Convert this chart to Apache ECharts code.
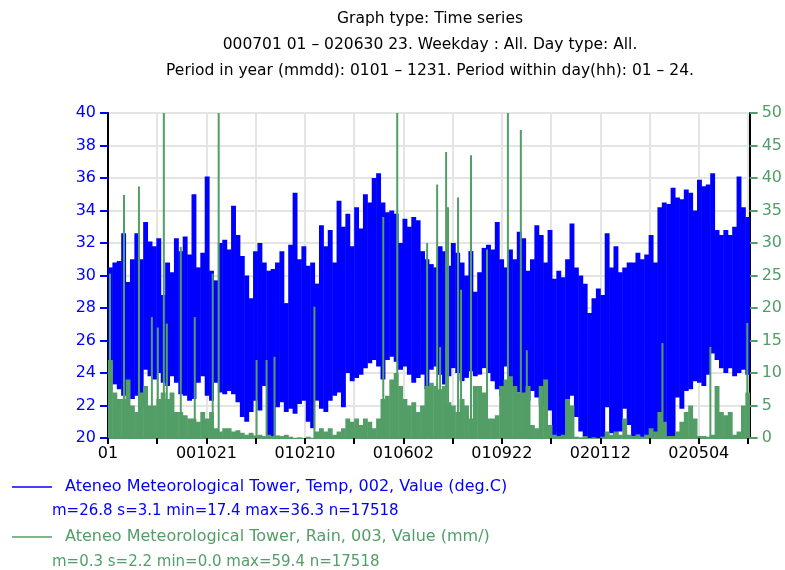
<!DOCTYPE html>
<html lang="en">
<head>
  <meta charset="UTF-8">
  <title>Ateneo Meteorological Tower - Time series</title>
  <style>
    html, body { margin: 0; padding: 0; background: #fff; }
    #main { width: 785px; height: 570px; }
  </style>
</head>
<body>
<div id="main"></div>
<script src="https://cdn.jsdelivr.net/npm/echarts@6/dist/echarts.min.js"></script>
<script>
  // hourly record 000701 01 .. 020630 23 (17518 values), summarised in 5-day blocks
  var SEG_HOURS = 120;
  var LAST_HOUR = 17517;
  var TICK_HOURS = 1344; // 56 days between grid lines, label on every second one

  // daily max / min temperature envelope per 5-day block (deg.C)
  var tempMax = [
    30.5, 30.8, 30.9, 32.6, 29.6, 31.0, 32.6, 31.0, 33.3, 32.1,
    31.8, 32.3, 28.8, 30.8, 30.2, 32.3, 31.5, 32.4, 31.3, 35.0,
    30.5, 31.4, 36.1, 30.3, 29.7, 32.0, 32.2, 31.6, 34.3, 32.5,
    31.2, 30.0, 28.6, 31.5, 32.0, 30.8, 30.3, 30.4, 30.8, 31.5,
    28.3, 31.9, 35.1, 31.0, 31.8, 30.6, 30.8, 29.5, 33.1, 31.8,
    32.8, 30.8, 34.6, 33.0, 33.8, 31.8, 34.2, 32.9, 35.0, 34.5,
    36.0, 36.3, 34.5, 33.9, 34.0, 33.8, 32.0, 33.5, 33.0, 33.6,
    33.4, 31.5, 31.0, 30.7, 30.5, 31.8, 31.5, 30.6, 32.0, 31.4,
    30.8, 30.0, 31.5, 29.0, 30.2, 31.7, 31.9, 31.6, 33.3, 31.0,
    30.5, 31.6, 31.0, 32.7, 32.3, 30.3, 31.0, 33.1, 32.5, 30.8,
    32.8, 29.8, 30.3, 29.9, 31.0, 33.2, 30.5, 30.0, 29.5, 27.7,
    28.6, 29.2, 28.8, 32.6, 30.5, 31.8, 30.2, 30.5, 30.8, 30.8,
    31.4, 31.0, 31.3, 32.5, 30.8, 34.2, 34.5, 34.4, 35.4, 34.8,
    34.7, 35.3, 35.1, 34.0, 35.9, 35.5, 35.6, 36.3, 32.8, 32.5,
    32.8, 32.5, 33.0, 36.1, 34.2, 33.6
  ];
  var tempMin = [
    24.5, 23.3, 23.0, 22.6, 22.8, 22.4, 22.6, 21.9, 24.2, 23.8,
    23.6, 24.0, 23.4, 23.2, 23.8, 23.4, 22.7, 22.6, 22.3, 22.4,
    23.4, 23.8, 22.6, 22.3, 23.4, 22.8, 22.7, 22.9, 22.7, 22.2,
    21.3, 21.0, 21.6, 22.3, 21.7, 23.2, 19.6, 19.8, 21.9, 22.2,
    21.6, 21.8, 21.5, 22.1, 22.3, 21.0, 20.6, 22.3, 21.8, 21.6,
    22.3, 22.6, 22.8, 21.9, 24.0, 23.5, 23.7, 23.9, 24.3, 24.6,
    24.8, 24.4, 23.6, 24.8, 25.0, 24.7, 24.2, 24.4, 23.9, 23.4,
    23.7, 23.9, 23.0, 24.2, 24.4, 23.9, 23.3, 23.8, 24.3, 24.0,
    23.5, 23.7, 24.1, 23.8, 23.9, 24.3, 24.0, 23.5, 23.0, 22.6,
    24.4, 23.4, 23.1, 22.8, 22.7, 22.3, 22.9, 22.5, 22.0, 22.1,
    21.7, 19.5, 19.8, 19.7, 22.3, 22.6, 21.3, 20.4, 19.2, 18.5,
    19.0, 18.7, 19.5, 21.9, 20.3, 20.0, 20.4, 21.8, 20.8, 19.8,
    20.2, 19.6, 20.1, 19.9, 19.5, 19.7, 20.8, 20.0, 19.6, 22.5,
    21.8, 22.9, 23.0, 23.5, 23.4, 23.2, 23.9, 25.2, 24.8, 24.3,
    24.0, 24.3, 23.8, 24.0, 24.2, 23.9
  ];

  // typical hourly rain peak per 5-day block (mm)
  var rainPeak = [
    12, 7, 6, 6, 9, 5, 4, 7, 8, 5,
    5, 6, 7, 6, 7, 4, 4, 3.5, 3, 3,
    2.5, 4, 3, 4, 1.5, 1, 1.5, 1.5, 1, 1.2,
    0.8, 0.5, 0.8, 0.4, 0.5, 0.3, 0.5, 0.3, 0.4, 0.3,
    0.5, 0.2, 0, 0.1, 0, 0.2, 0, 1, 1.5, 1,
    1.5, 0.5, 1, 1.5, 3, 2.5, 3, 2, 3, 2.5,
    1.5, 3, 6, 6.5, 9, 10, 8, 6, 5, 5.5,
    4, 5, 8, 8.5, 8, 7.5, 8, 5.5, 5, 4,
    6, 5, 3, 8, 8, 7, 3, 3, 3.5, 8,
    9, 9.5, 8, 7, 7, 8, 2, 1.5, 8, 9,
    2, 0.5, 0.3, 0.5, 6, 5, 0.2, 0.1, 0.3, 0,
    0.1, 0, 0.2, 1, 0.5, 1, 0.5, 3, 0.5, 0.3,
    0.5, 0.2, 0.5, 1.5, 1, 4, 2.5, 0.3, 0.3, 1,
    2.5, 4, 5, 3, 0.3, 0.3, 0.2, 0.5, 8, 4,
    3.5, 4, 0.5, 1, 5, 7
  ];

  // single heavy-rain hours: day since 000701 and mm
  var stormDay = [2.3, 18.2, 35.2, 49.9, 56.7, 63.5, 66.9, 82.8, 98.7, 119.1, 125.9, 169, 180.4, 189.4,
                  234.8, 313.1, 329, 363, 374.4, 377.8, 384.6, 386.8, 398.2, 401.6, 412.9, 431.1,
                  454.9, 469.6, 476.4, 630.7, 685.2, 727.2];
  var stormMm = [25.3, 37.4, 38.7, 18.6, 17, 55, 17.6, 29.4, 18.6, 25.3, 55, 12, 12, 12.5,
                 20.2, 34, 59.4, 30, 39, 14, 44, 35.5, 37, 22.8, 43.5, 29,
                 52, 47.4, 13.5, 14.6, 14, 17.7];

  var BLUE = '#0000ff';
  var GREEN = '#529e66';
  var FONT = 'DejaVu Sans';

  function blockData(values, extra) {
    return values.map(function (v, i) {
      var t0 = i * SEG_HOURS, t1 = Math.min((i + 1) * SEG_HOURS, LAST_HOUR);
      return extra ? [t0, t1, extra[i], v] : [t0, t1, 0, v];
    });
  }
  var tempData = blockData(tempMax, tempMin);
  var rainData = blockData(rainPeak);
  var stormData = stormDay.map(function (d, i) { return [d * 24, stormMm[i]]; });

  function blockRect(color) {
    return function (params, api) {
      var a = api.coord([api.value(0), api.value(3)]);
      var b = api.coord([api.value(1), api.value(2)]);
      return {
        type: 'rect',
        shape: { x: a[0], y: a[1], width: b[0] - a[0] + 0.5, height: b[1] - a[1] },
        style: { fill: color }
      };
    };
  }

  var startMs = Date.UTC(2000, 6, 1, 1);
  function pad(n) { return (n < 10 ? '0' : '') + n; }
  function tickLabel(v, idx) {
    if (idx === 0) return '01';
    if (idx % 2) return '';
    var d = new Date(startMs + v * 3600000);
    return pad(d.getUTCFullYear() % 100) + pad(d.getUTCMonth() + 1) + pad(d.getUTCDate());
  }

  var chart = echarts.init(document.getElementById('main'));
  chart.setOption({
    animation: false,
    textStyle: { fontFamily: FONT },
    grid: { left: 108, right: 33, top: 113, bottom: 132 },
    xAxis: {
      type: 'value', min: 0, max: LAST_HOUR, interval: TICK_HOURS,
      axisLine: { show: true, lineStyle: { color: GREEN, width: 1 } },
      axisTick: { show: true, length: 6, lineStyle: { color: '#000', width: 2 } },
      axisLabel: { formatter: tickLabel, color: '#000', fontSize: 16, margin: 8, fontFamily: FONT, showMaxLabel: false },
      splitLine: { show: true, lineStyle: { color: '#e4e4e4', width: 2 } }
    },
    yAxis: [
      {
        type: 'value', min: 20, max: 40, interval: 2, position: 'left',
        axisLine: { show: true, lineStyle: { color: '#000', width: 2 } },
        axisTick: { show: true, length: 8, lineStyle: { color: BLUE, width: 2 } },
        axisLabel: { color: BLUE, fontSize: 16, margin: 12, fontFamily: FONT },
        splitLine: { show: true, lineStyle: { color: '#e4e4e4', width: 2 } }
      },
      {
        type: 'value', min: 0, max: 50, interval: 5, position: 'right',
        axisLine: { show: true, lineStyle: { color: '#000', width: 2 } },
        axisTick: { show: true, length: 8, lineStyle: { color: GREEN, width: 2 } },
        axisLabel: { color: GREEN, fontSize: 16, margin: 12, fontFamily: FONT },
        splitLine: { show: false }
      }
    ],
    series: [
      {
        name: 'Temp', type: 'custom', yAxisIndex: 0, clip: true,
        encode: { x: [0, 1], y: [2, 3] },
        renderItem: blockRect(BLUE),
        data: tempData
      },
      {
        name: 'Rain', type: 'custom', yAxisIndex: 1, clip: true,
        encode: { x: [0, 1], y: [2, 3] },
        renderItem: blockRect(GREEN),
        data: rainData
      },
      {
        name: 'Rain peaks', type: 'custom', yAxisIndex: 1, clip: true,
        encode: { x: 0, y: 1 },
        renderItem: function (params, api) {
          var top = api.coord([api.value(0), api.value(1)]);
          var base = api.coord([api.value(0), 0]);
          return {
            type: 'rect',
            shape: { x: top[0] - 1, y: top[1], width: 2, height: base[1] - top[1] },
            style: { fill: GREEN }
          };
        },
        data: stormData
      }
    ],
    graphic: [
      { type: 'text', x: 430, y: 19, style: { text: 'Graph type: Time series', fill: '#000', font: '15.5px ' + FONT, textAlign: 'center', textVerticalAlign: 'middle' } },
      { type: 'text', x: 430, y: 45, style: { text: '000701 01 – 020630 23. Weekday : All. Day type: All.', fill: '#000', font: '15.5px ' + FONT, textAlign: 'center', textVerticalAlign: 'middle' } },
      { type: 'text', x: 430, y: 71, style: { text: 'Period in year (mmdd): 0101 – 1231. Period within day(hh): 01 – 24.', fill: '#000', font: '15.5px ' + FONT, textAlign: 'center', textVerticalAlign: 'middle' } },
      { type: 'line', shape: { x1: 12, y1: 487, x2: 52, y2: 487 }, style: { stroke: BLUE, lineWidth: 1.5 } },
      { type: 'text', x: 65, y: 487, style: { text: 'Ateneo Meteorological Tower, Temp, 002, Value (deg.C)', fill: BLUE, font: '16px ' + FONT, textVerticalAlign: 'middle' } },
      { type: 'text', x: 52, y: 511, style: { text: 'm=26.8 s=3.1 min=17.4 max=36.3 n=17518', fill: BLUE, font: '15px ' + FONT, textVerticalAlign: 'middle' } },
      { type: 'line', shape: { x1: 12, y1: 537, x2: 52, y2: 537 }, style: { stroke: GREEN, lineWidth: 1.5 } },
      { type: 'text', x: 65, y: 537, style: { text: 'Ateneo Meteorological Tower, Rain, 003, Value (mm/)', fill: GREEN, font: '16px ' + FONT, textVerticalAlign: 'middle' } },
      { type: 'text', x: 52, y: 562, style: { text: 'm=0.3 s=2.2 min=0.0 max=59.4 n=17518', fill: GREEN, font: '15px ' + FONT, textVerticalAlign: 'middle' } }
    ]
  });
</script>
</body>
</html>
